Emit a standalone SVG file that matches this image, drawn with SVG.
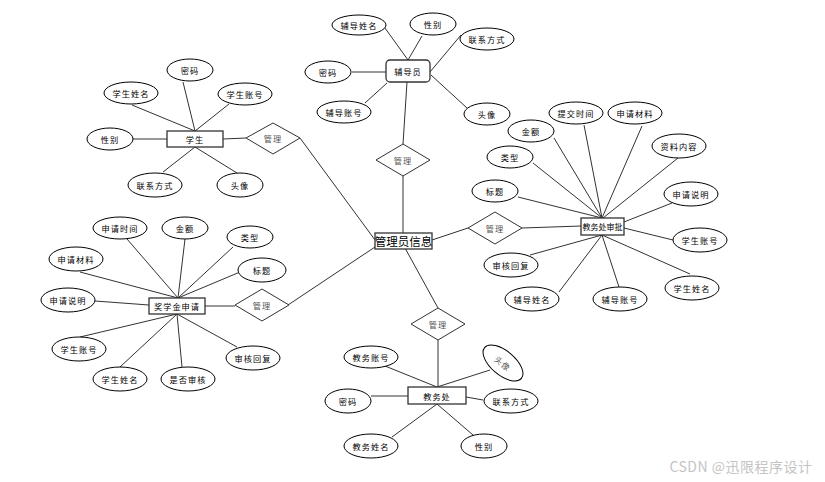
<svg xmlns="http://www.w3.org/2000/svg" width="825" height="482" viewBox="0 0 825 482">
<style>
.e{fill:#fff;stroke:#000;stroke-width:1}
.b{fill:#fff;stroke:#333;stroke-width:1.3}
.d{fill:#fff;stroke:#333;stroke-width:1}
.c line{stroke:#333;stroke-width:1}
text{font-family:"Noto Sans CJK SC","Liberation Sans",sans-serif;font-size:8.2px;text-anchor:middle;dominant-baseline:central;fill:#000;letter-spacing:1px}
.g{fill:#555}
.big{font-size:11.5px;letter-spacing:0}
</style>
<rect width="825" height="482" fill="#fff"/>
<g class="c" id="connectors">
<line x1="385" y1="28" x2="408" y2="60"/>
<line x1="422" y1="36" x2="408" y2="60"/>
<line x1="461" y1="35" x2="430" y2="72"/>
<line x1="352" y1="72" x2="386" y2="72"/>
<line x1="365" y1="103" x2="387" y2="83"/>
<line x1="431" y1="75" x2="467" y2="108"/>
<line x1="407" y1="82" x2="403" y2="144"/>
<line x1="403" y1="176" x2="403" y2="233"/>
<line x1="132" y1="105" x2="195" y2="131"/>
<line x1="183" y1="82" x2="195" y2="131"/>
<line x1="229" y1="104" x2="195" y2="131"/>
<line x1="132" y1="139" x2="167" y2="139"/>
<line x1="163" y1="172" x2="195" y2="147"/>
<line x1="237" y1="173" x2="195" y2="147"/>
<line x1="223" y1="139" x2="246" y2="138"/>
<line x1="300" y1="138" x2="375" y2="240"/>
<line x1="432" y1="240" x2="468" y2="228"/>
<line x1="522" y1="228" x2="581" y2="226"/>
<line x1="375" y1="247" x2="288" y2="305"/>
<line x1="405" y1="248" x2="438" y2="308"/>
<line x1="554" y1="138" x2="602" y2="218"/>
<line x1="584" y1="125" x2="602" y2="218"/>
<line x1="642" y1="126" x2="602" y2="218"/>
<line x1="678" y1="158" x2="603" y2="218"/>
<line x1="533" y1="163" x2="602" y2="218"/>
<line x1="518" y1="197" x2="602" y2="218"/>
<line x1="672" y1="203" x2="624" y2="222"/>
<line x1="624" y1="228" x2="673" y2="240"/>
<line x1="602" y1="235" x2="530" y2="255"/>
<line x1="602" y1="235" x2="559" y2="292"/>
<line x1="602" y1="235" x2="619" y2="287"/>
<line x1="602" y1="235" x2="690" y2="274"/>
<line x1="127" y1="239" x2="178" y2="298"/>
<line x1="185" y1="239" x2="178" y2="298"/>
<line x1="233" y1="247" x2="178" y2="298"/>
<line x1="240" y1="272" x2="178" y2="298"/>
<line x1="80" y1="272" x2="178" y2="298"/>
<line x1="95" y1="301" x2="149" y2="305"/>
<line x1="80" y1="337" x2="177" y2="314"/>
<line x1="120" y1="367" x2="177" y2="314"/>
<line x1="182" y1="367" x2="177" y2="314"/>
<line x1="237" y1="347" x2="177" y2="314"/>
<line x1="205" y1="306" x2="235" y2="306"/>
<line x1="438" y1="340" x2="438" y2="387"/>
<line x1="385" y1="366" x2="437" y2="387"/>
<line x1="490" y1="370" x2="437" y2="387"/>
<line x1="371" y1="396" x2="408" y2="396"/>
<line x1="466" y1="397" x2="483" y2="400"/>
<line x1="392" y1="437" x2="437" y2="404"/>
<line x1="473" y1="435" x2="437" y2="404"/>
</g>
<g id="fudaoyuan"><rect class="b" x="386" y="60" width="44" height="22" rx="4"/><text x="408" y="71">辅导员</text></g>
<g id="fd-name"><ellipse class="e" cx="359" cy="25" rx="27" ry="10"/><text x="359" y="25">辅导姓名</text></g>
<g id="fd-sex"><ellipse class="e" cx="433" cy="24" rx="23" ry="11"/><text x="433" y="24">性别</text></g>
<g id="fd-contact"><ellipse class="e" cx="487" cy="39" rx="27" ry="11"/><text x="487" y="39">联系方式</text></g>
<g id="fd-pwd"><ellipse class="e" cx="328" cy="72" rx="23" ry="11"/><text x="328" y="72">密码</text></g>
<g id="fd-acc"><ellipse class="e" cx="344" cy="112" rx="27" ry="11"/><text x="344" y="112">辅导账号</text></g>
<g id="fd-avatar"><ellipse class="e" cx="487" cy="114" rx="23" ry="11"/><text x="487" y="114">头像</text></g>
<g id="rel-fd"><polygon class="d" points="403,144 430,160 403,176 376,160"/><text class="g" x="403" y="160">管理</text></g>
<g id="admin"><rect class="b" x="375" y="233" width="57" height="16"/><text class="big" x="403.5" y="241">管理员信息</text></g>
<g id="student"><rect class="b" x="167" y="131" width="56" height="16"/><text x="195" y="139">学生</text></g>
<g id="st-pwd"><ellipse class="e" cx="190" cy="70" rx="23" ry="11"/><text x="190" y="70">密码</text></g>
<g id="st-name"><ellipse class="e" cx="131" cy="93" rx="27" ry="11"/><text x="131" y="93">学生姓名</text></g>
<g id="st-acc"><ellipse class="e" cx="245" cy="94" rx="27" ry="11"/><text x="245" y="94">学生账号</text></g>
<g id="st-sex"><ellipse class="e" cx="110" cy="139" rx="23" ry="11"/><text x="110" y="139">性别</text></g>
<g id="st-contact"><ellipse class="e" cx="155" cy="185" rx="27" ry="12"/><text x="155" y="185">联系方式</text></g>
<g id="st-avatar"><ellipse class="e" cx="240" cy="185" rx="23" ry="12"/><text x="240" y="185">头像</text></g>
<g id="rel-st"><polygon class="d" points="273,123 300,138 273,154 246,138"/><text class="g" x="273" y="138">管理</text></g>
<g id="rel-sp"><polygon class="d" points="495,212 522,228 495,244 468,228"/><text class="g" x="495" y="228">管理</text></g>
<g id="approve"><rect class="b" x="581" y="218" width="43" height="17"/><text x="602.5" y="226.5" style="letter-spacing:0;font-size:8px">教务处审批</text></g>
<g id="sp-amount"><ellipse class="e" cx="531" cy="131" rx="23" ry="11"/><text x="531" y="131">金额</text></g>
<g id="sp-time"><ellipse class="e" cx="576" cy="113" rx="27" ry="11"/><text x="576" y="113">提交时间</text></g>
<g id="sp-mat"><ellipse class="e" cx="635" cy="113" rx="27" ry="11"/><text x="635" y="113">申请材料</text></g>
<g id="sp-content"><ellipse class="e" cx="679" cy="146" rx="27" ry="12"/><text x="679" y="146">资料内容</text></g>
<g id="sp-type"><ellipse class="e" cx="510" cy="157" rx="23" ry="11"/><text x="510" y="157">类型</text></g>
<g id="sp-title"><ellipse class="e" cx="495" cy="191" rx="23" ry="11"/><text x="495" y="191">标题</text></g>
<g id="sp-desc"><ellipse class="e" cx="691" cy="194" rx="27" ry="12"/><text x="691" y="194">申请说明</text></g>
<g id="sp-stacc"><ellipse class="e" cx="700" cy="240" rx="27" ry="12"/><text x="700" y="240">学生账号</text></g>
<g id="sp-reply"><ellipse class="e" cx="511" cy="265" rx="27" ry="12"/><text x="511" y="265">审核回复</text></g>
<g id="sp-fdname"><ellipse class="e" cx="532" cy="299" rx="27" ry="12"/><text x="532" y="299">辅导姓名</text></g>
<g id="sp-fdacc"><ellipse class="e" cx="620" cy="299" rx="27" ry="12"/><text x="620" y="299">辅导账号</text></g>
<g id="sp-stname"><ellipse class="e" cx="692" cy="288" rx="27" ry="12"/><text x="692" y="288">学生姓名</text></g>
<g id="apply"><rect class="b" x="149" y="298" width="56" height="16"/><text x="177" y="306">奖学金申请</text></g>
<g id="ap-time"><ellipse class="e" cx="120" cy="228" rx="27" ry="11"/><text x="120" y="228">申请时间</text></g>
<g id="ap-amount"><ellipse class="e" cx="185" cy="228" rx="23" ry="11"/><text x="185" y="228">金额</text></g>
<g id="ap-type"><ellipse class="e" cx="250" cy="237" rx="23" ry="11"/><text x="250" y="237">类型</text></g>
<g id="ap-title"><ellipse class="e" cx="262" cy="270" rx="24" ry="12"/><text x="262" y="270">标题</text></g>
<g id="ap-mat"><ellipse class="e" cx="76" cy="259" rx="27" ry="12"/><text x="76" y="259">申请材料</text></g>
<g id="ap-desc"><ellipse class="e" cx="68" cy="300" rx="27" ry="12"/><text x="68" y="300">申请说明</text></g>
<g id="rel-ap"><polygon class="d" points="262,289 289,305 262,321 235,305"/><text class="g" x="262" y="305">管理</text></g>
<g id="ap-stacc"><ellipse class="e" cx="79" cy="349" rx="27" ry="12"/><text x="79" y="349">学生账号</text></g>
<g id="ap-stname"><ellipse class="e" cx="120" cy="379" rx="27" ry="12"/><text x="120" y="379">学生姓名</text></g>
<g id="ap-check"><ellipse class="e" cx="188" cy="379" rx="27" ry="12"/><text x="188" y="379">是否审核</text></g>
<g id="ap-reply"><ellipse class="e" cx="253" cy="358" rx="27" ry="12"/><text x="253" y="358">审核回复</text></g>
<g id="rel-jw"><polygon class="d" points="438,308 465,324 438,340 411,324"/><text class="g" x="438" y="324">管理</text></g>
<g id="jwc"><rect class="b" x="408" y="387" width="58" height="17"/><text x="437" y="395.5">教务处</text></g>
<g id="jw-acc"><ellipse class="e" cx="371" cy="357" rx="27" ry="11"/><text x="371" y="357">教务账号</text></g>
<g id="jw-avatar"><ellipse class="e" cx="503" cy="363" rx="24" ry="12" transform="rotate(40 503 363)"/><text class="g" x="503" y="363" transform="rotate(40 503 363)">头像</text></g>
<g id="jw-pwd"><ellipse class="e" cx="348" cy="401" rx="23" ry="12"/><text x="348" y="401">密码</text></g>
<g id="jw-contact"><ellipse class="e" cx="511" cy="401" rx="27" ry="12"/><text x="511" y="401">联系方式</text></g>
<g id="jw-name"><ellipse class="e" cx="371" cy="446" rx="27" ry="12"/><text x="371" y="446">教务姓名</text></g>
<g id="jw-sex"><ellipse class="e" cx="484" cy="446" rx="23" ry="12"/><text x="484" y="446">性别</text></g>
<text x="741" y="466" style="font-size:14px;fill:#c4c4c4;letter-spacing:0.5px">CSDN @迅限程序设计</text>
</svg>
